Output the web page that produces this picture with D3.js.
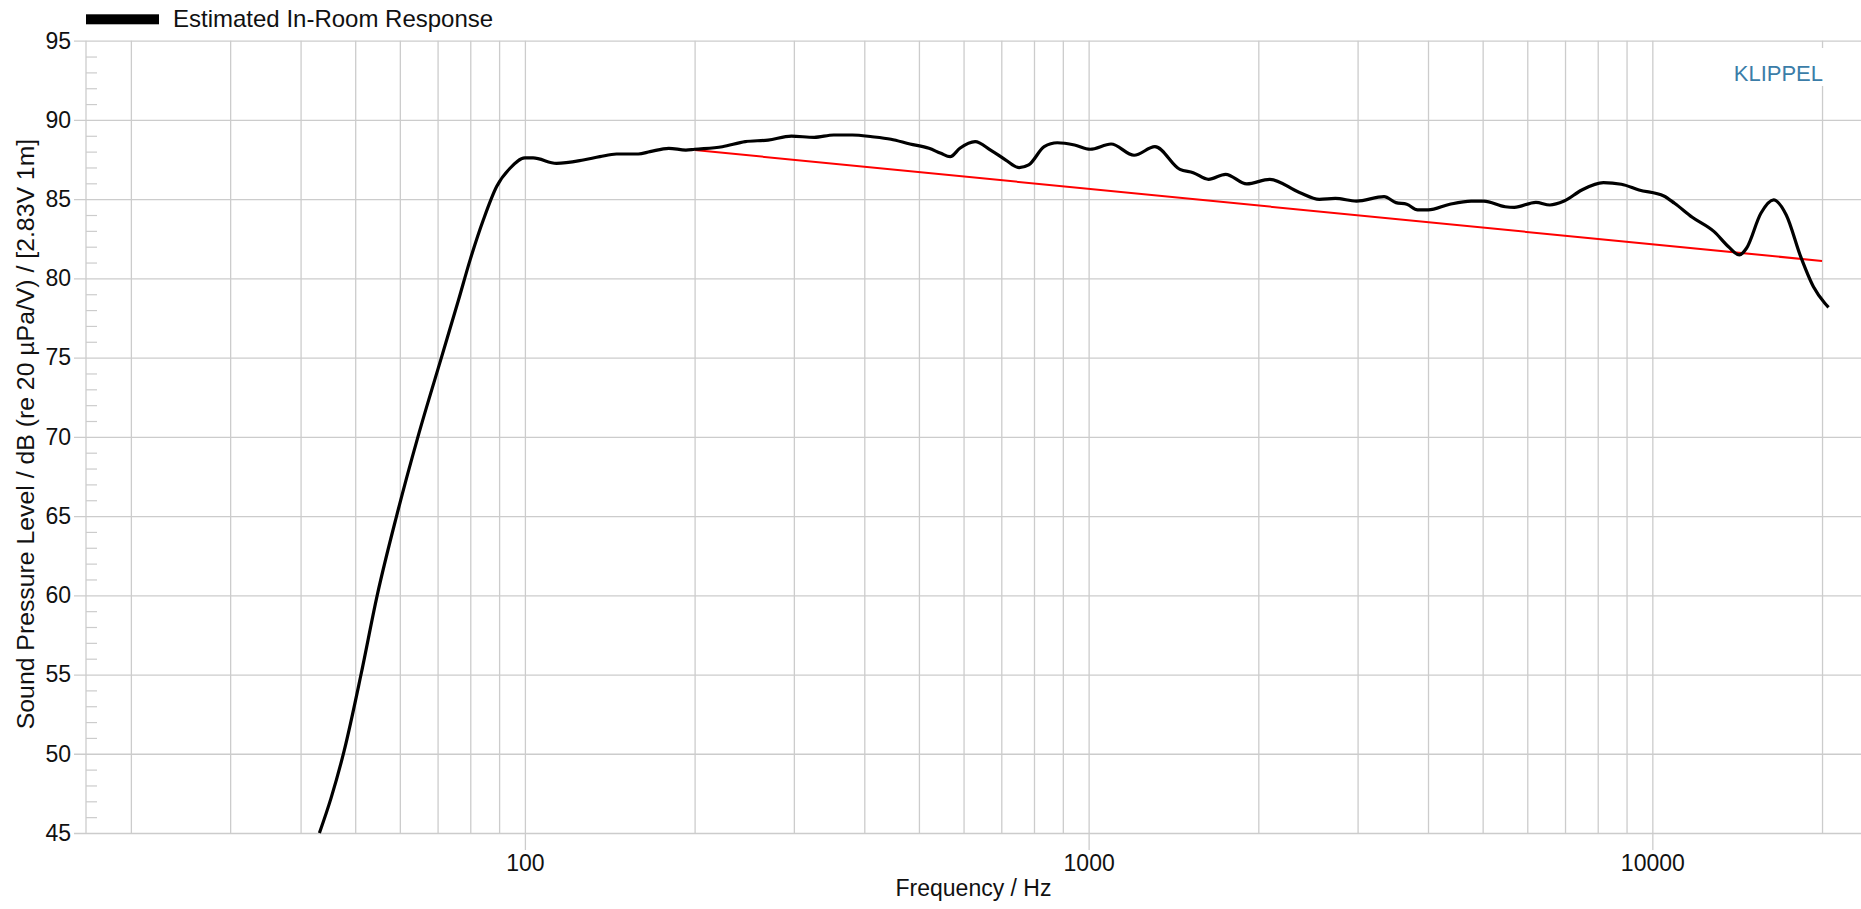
<!DOCTYPE html>
<html>
<head>
<meta charset="utf-8">
<script src="https://cdn.jsdelivr.net/npm/d3@7"></script>
<style>
  html, body { margin: 0; padding: 0; background: #fff; }
  svg { display: block; }
  text { font-family: "Liberation Sans", Arial, Helvetica, sans-serif; }
</style>
</head>
<body>
<svg id="chart" width="1861" height="909"></svg>
<script>
// ---------- data ----------
const freqHz = [43.2, 45.3, 47.8, 51.2, 54.7, 59.2, 64.6, 71.1, 76.2, 80, 84.4, 89.1, 94.1, 100, 103.4,
  113.8, 126.9, 135.8, 145.4, 158.9, 166.7, 180, 193, 200, 224, 246, 270, 297, 326, 353, 381, 413, 446,
  482, 521, 547, 568, 591, 629, 670, 713, 753, 783, 834, 880, 944, 1006, 1096, 1204, 1311, 1452, 1533,
  1632, 1750, 1908, 2095, 2366, 2566, 2739, 2986, 3343, 3509, 3668, 3834, 4004, 4372, 4771, 5023, 5483,
  5689, 6215, 6580, 6975, 7499, 8189, 8810, 9469, 10480, 10950, 11770, 12870, 13650, 14270, 14690,
  15580, 16410, 17280, 18330, 19310, 20230, 20540];
const splDb = [45.0, 47.2, 50.2, 55.0, 60.0, 65.0, 70.0, 75.0, 78.6, 81.2, 83.7, 85.8, 86.95, 87.6, 87.6,
  87.26, 87.47, 87.68, 87.85, 87.85, 88.0, 88.21, 88.1, 88.15, 88.31, 88.63, 88.73, 88.98, 88.9, 89.05, 89.05, 88.94, 88.78,
  88.48, 88.21, 87.89, 87.68, 88.21, 88.63, 88.1, 87.47, 86.99, 87.16, 88.31, 88.56, 88.42, 88.15, 88.48, 87.77, 88.31, 86.88, 86.67,
  86.25, 86.57, 85.96, 86.25, 85.42, 84.99, 85.05, 84.88, 85.16, 84.78, 84.68, 84.32, 84.32, 84.68, 84.88, 84.88, 84.52,
  84.48, 84.8, 84.63, 84.88, 85.58, 86.04, 85.94, 85.58, 85.2, 84.74, 83.86, 82.95, 82.0, 81.48, 81.9,
  84.11, 84.95, 84.0, 81.37, 79.47, 78.43, 78.17];

// red trend line (start / end)
const trendFreq = [200, 20000];
const trendDb = [88.1, 81.1];

const xLabelTicks = [100, 1000, 10000];
const xGridTicks = [20, 30, 40, 50, 60, 70, 80, 90, 100, 200, 300, 400, 500, 600, 700, 800, 900,
  1000, 2000, 3000, 4000, 5000, 6000, 7000, 8000, 9000, 10000, 20000];
const yMajorTicks = [45, 50, 55, 60, 65, 70, 75, 80, 85, 90, 95];
const yMinorTicks = d3.range(46, 95).filter(v => v % 5 !== 0);

const legendLabel = "Estimated In-Room Response";
const xTitle = "Frequency / Hz";
const yTitle = "Sound Pressure Level / dB (re 20 \u00b5Pa/V) / [2.83V 1m]";
const brand = "KLIPPEL";

// ---------- layout ----------
const plotL = 86, plotR = 1861, plotT = 40.7, plotB = 833;
const gridColor = "#cccccc";

const svg = d3.select("#chart");

const x = d3.scaleLog().domain([16.65, 23450]).range([plotL, plotR]);
const y = d3.scaleLinear().domain([45, 95]).range([plotB, plotT]);

// vertical grid
const gx = svg.append("g")
  .attr("transform", `translate(0,${plotB})`)
  .call(d3.axisBottom(x).tickValues(xGridTicks).tickSize(-(plotB - plotT)).tickFormat(""));
gx.select(".domain").remove();
gx.selectAll("line").attr("stroke", gridColor).attr("stroke-width", 1.3);

// horizontal grid + y labels
const gy = svg.append("g")
  .attr("transform", `translate(74,0)`)
  .call(d3.axisLeft(y).tickValues(yMajorTicks).tickSize(-(plotR - 74)).tickPadding(3).tickFormat(d3.format("d")));
gy.select(".domain").remove();
gy.selectAll("line").attr("stroke", gridColor).attr("stroke-width", 1.3);
gy.selectAll("text").attr("font-size", 23).attr("fill", "#111")
  .attr("font-family", "'Liberation Sans', Arial, sans-serif");

// minor y ticks
const gm = svg.append("g")
  .attr("transform", `translate(97,0)`)
  .call(d3.axisLeft(y).tickValues(yMinorTicks).tickSize(11).tickFormat(""));
gm.select(".domain").remove();
gm.selectAll("line").attr("stroke", gridColor).attr("stroke-width", 1.2);

// left border
svg.append("line").attr("x1", plotL).attr("x2", plotL).attr("y1", plotT).attr("y2", plotB)
  .attr("stroke", gridColor).attr("stroke-width", 1.3);

// x labels
const gxl = svg.append("g")
  .attr("transform", `translate(0,${plotB})`)
  .call(d3.axisBottom(x).tickValues(xLabelTicks).tickSize(17).tickPadding(5).tickFormat(d3.format("d")));
gxl.select(".domain").remove();
gxl.selectAll("line").attr("stroke", gridColor).attr("stroke-width", 1.3);
gxl.selectAll("text").attr("font-size", 23).attr("fill", "#111")
  .attr("font-family", "'Liberation Sans', Arial, sans-serif");

// KLIPPEL brand with white background
svg.append("rect").attr("x", 1730).attr("y", 48).attr("width", 98).attr("height", 38).attr("fill", "#fff");
svg.append("text").attr("x", 1823).attr("y", 80.7).attr("text-anchor", "end")
  .attr("font-size", 22).attr("fill", "#3b7da8").text(brand);

// trend line
svg.append("path")
  .datum(trendFreq.map((f, i) => [f, trendDb[i]]))
  .attr("fill", "none").attr("stroke", "#ff0000").attr("stroke-width", 2)
  .attr("d", d3.line().x(d => x(d[0])).y(d => y(d[1])));

// response curve
const pts = freqHz.map((f, i) => [f, splDb[i]]);
svg.append("path")
  .datum(pts)
  .attr("fill", "none").attr("stroke", "#000").attr("stroke-width", 3.2)
  .attr("stroke-linejoin", "round")
  .attr("d", d3.line().x(d => x(d[0])).y(d => y(d[1])).curve(d3.curveMonotoneX));

// legend
svg.append("rect").attr("x", 86).attr("y", 14.3).attr("width", 73).attr("height", 10).attr("fill", "#000");
svg.append("text").attr("x", 173).attr("y", 27.3).attr("font-size", 24).attr("fill", "#111").text(legendLabel);

// axis titles
svg.append("text").attr("x", (plotL + plotR) / 2).attr("y", 896).attr("text-anchor", "middle")
  .attr("font-size", 23).attr("fill", "#111").text(xTitle);
svg.append("text")
  .attr("transform", `translate(34,434) rotate(-90)`)
  .attr("text-anchor", "middle").attr("font-size", 24.8).attr("fill", "#111").text(yTitle);
</script>
</body>
</html>
